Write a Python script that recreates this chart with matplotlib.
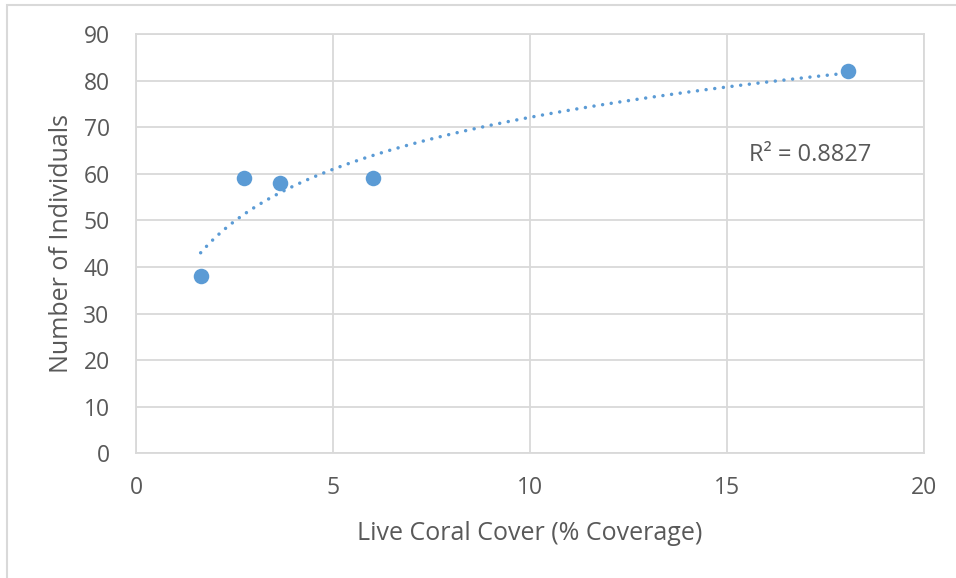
import numpy as np
import matplotlib
matplotlib.use("Agg")
import matplotlib.pyplot as plt
from matplotlib.patches import Rectangle

# data
coral_cover = [1.64, 2.75, 3.66, 6.02, 18.07]
individuals = [38, 59, 58, 59, 82]
r2_label = "R² = 0.8827"

x_ticks = [0, 5, 10, 15, 20]
y_ticks = [0, 10, 20, 30, 40, 50, 60, 70, 80, 90]

blue = "#5B9BD5"
grid_c = "#D9D9D9"
text_c = "#595959"

plt.rcParams['font.family'] = ['Open Sans', 'DejaVu Sans']

fig = plt.figure(figsize=(9.56, 5.78), dpi=100)
ax = fig.add_axes([0.1423, 0.2154, 0.8242, 0.7258])

# logarithmic trendline, fitted on the points
xs = np.array(coral_cover)
ys = np.array(individuals)
a, b = np.polyfit(np.log(xs), ys, 1)
xt = np.linspace(xs.min(), xs.max(), 200)
ax.plot(xt, a * np.log(xt) + b, color=blue, lw=2.5,
        linestyle=(0, (0.01, 2.5)), dash_capstyle="round", zorder=2)

ax.scatter(coral_cover, individuals, s=125, color=blue, zorder=3, linewidths=0)

ax.set_xlim(0, 20)
ax.set_ylim(0, 90)
ax.set_xticks(x_ticks)
ax.set_yticks(y_ticks)
ax.grid(True, color=grid_c, lw=1.3)
ax.set_axisbelow(True)
for s in ax.spines.values():
    s.set_color(grid_c)
    s.set_linewidth(1.3)
ax.tick_params(length=0, labelsize=16.5, colors=text_c)
ax.tick_params(axis="x", pad=16)
ax.tick_params(axis="y", pad=19)

ax.set_xlabel("Live Coral Cover (% Coverage)", fontsize=18, color=text_c, labelpad=15)
ax.set_ylabel("Number of Individuals", fontsize=18, color=text_c, labelpad=7)

ax.text(15.55, 64, r2_label, fontsize=17, color=text_c, va="center", ha="left")

# outer chart border (cropped on right/bottom)
fig.patches.append(Rectangle((7 / 956, -0.1), 1.2, 1 - 5 / 578 + 0.1,
                             transform=fig.transFigure, fill=False,
                             edgecolor=grid_c, lw=1.5))

fig.savefig("out.png", dpi=100)
